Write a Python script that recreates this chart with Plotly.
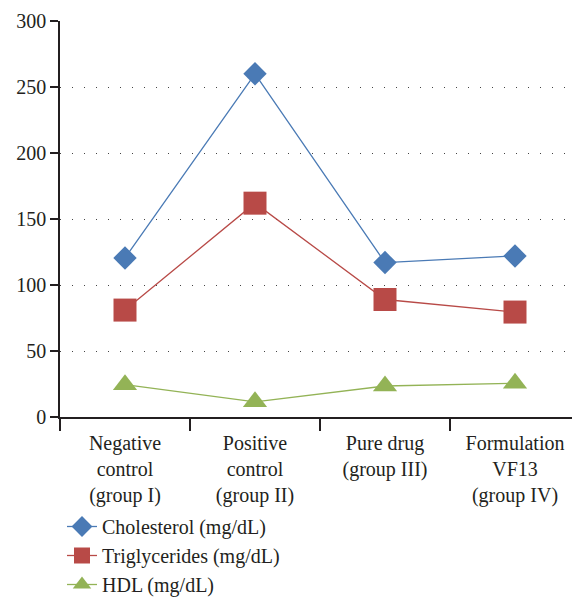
import plotly.graph_objects as go

categories = ["Negative<br>control<br>(group I)", "Positive<br>control<br>(group II)",
              "Pure drug<br>(group III)", "Formulation<br>VF13<br>(group IV)"]
cholesterol = [120.5, 260, 117, 122]
triglycerides = [81, 162, 89, 79.5]
hdl = [24.5, 11.5, 23.5, 25.5]
y_ticks = [0, 50, 100, 150, 200, 250, 300]

FONT = "Liberation Serif"
W, H = 580, 598
OFF = 8  # page body margin offset

fig = go.Figure()
series = [
    ("Cholesterol (mg/dL)", cholesterol, "#4a7ab5", "diamond", 18),
    ("Triglycerides (mg/dL)", triglycerides, "#b84a47", "square", 23),
    ("HDL (mg/dL)", hdl, "#93b356", "triangle-up", 21),
]
for name, vals, color, sym, size in series:
    fig.add_trace(go.Scatter(
        x=categories, y=vals, name=name, mode="lines+markers",
        line=dict(color=color, width=1.3),
        marker=dict(symbol=sym, size=size, color=color, line=dict(width=0)),
    ))

fig.update_layout(
    width=W, height=H,
    margin=dict(l=60 - OFF, r=OFF, t=21 - OFF, b=H - 417 + OFF, autoexpand=False),
    paper_bgcolor="white", plot_bgcolor="white",
    font=dict(family=FONT, size=20, color="#231f20"),
    showlegend=True,
    legend=dict(xref="container", yref="container",
                x=(62 - OFF) / W, y=1 - (507 - OFF) / H,
                xanchor="left", yanchor="top",
                font=dict(family=FONT, size=20, color="#231f20"), tracegroupgap=0,
                itemwidth=30, bgcolor="rgba(0,0,0,0)"),
)
fig.update_xaxes(
    type="category", tickson="boundaries", ticks="outside", ticklen=12,
    tickcolor="#231f20", tickwidth=1.5,
    showline=True, linecolor="#231f20", linewidth=1.5,
    showgrid=False, range=[-0.5, 3.5], ticklabelstandoff=7,
    tickfont=dict(family=FONT, size=20, color="#231f20"), automargin=False,
)
fig.update_yaxes(
    range=[0, 300], tickvals=y_ticks, ticks="outside", ticklen=8,
    tickcolor="#231f20", tickwidth=1.5,
    showline=True, linecolor="#231f20", linewidth=1.5,
    showgrid=True, gridcolor="#444444", gridwidth=1, griddash="1px,11px",
    zeroline=False, tickfont=dict(family=FONT, size=20, color="#231f20"), automargin=False,
)

fig.write_html("out.html")
